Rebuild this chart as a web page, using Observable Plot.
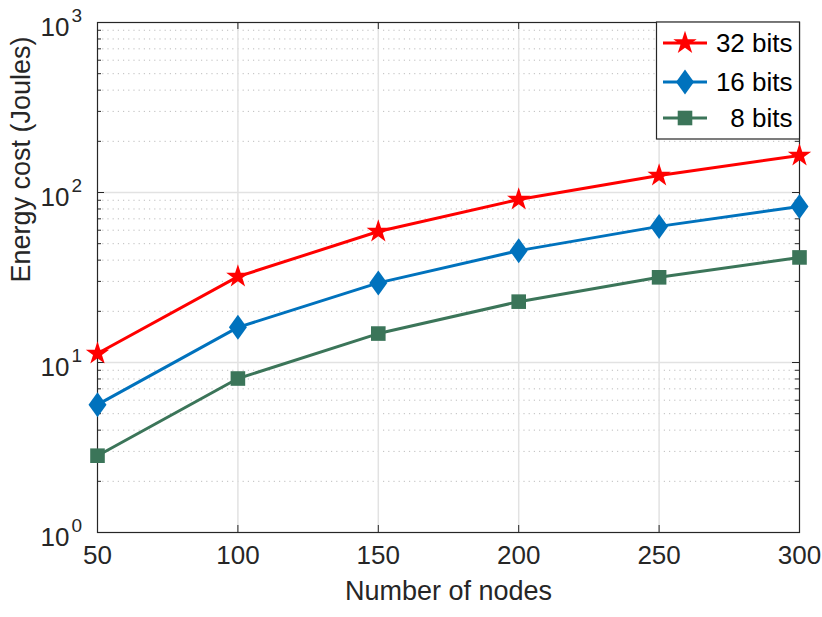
<!DOCTYPE html>
<html><head><meta charset="utf-8">
<script src="https://cdn.jsdelivr.net/npm/d3@7"></script>
<script src="https://cdn.jsdelivr.net/npm/@observablehq/plot@0.6"></script>
<style>body{margin:0;background:#fff;} #chart{width:822px;height:617px;}</style>
</head><body><div id="chart"></div>
<script>
const nodes = [50, 100, 150, 200, 250, 300];
const energy32 = [11.3, 32.0, 59.0, 91.0, 126, 165];
const energy16 = [5.65, 16.1, 29.4, 45.5, 63.2, 82.8];
const energy8 = [2.83, 8.05, 14.8, 22.8, 31.7, 41.5];
const seriesNames = ["32 bits", "16 bits", "8 bits"];
const seriesColors = ["#ff0000", "#0072bd", "#3b7559"];
const xTicks = [50, 100, 150, 200, 250, 300];
const yMajor = [1, 10, 100, 1000];
const yExp = ["0", "1", "2", "3"];
const yMinor = [1, 10, 100].flatMap(d => [2,3,4,5,6,7,8,9].map(k => k * d));

const W = 822, H = 617, mL = 97, mR = 23, mT = 22, mB = 85;
const fw = W - mL - mR, fh = H - mT - mB;
const axisColor = "#262626";
const lineW = 3;

const starSym = {draw(ctx, size) {
  const R = Math.sqrt(size / Math.PI), r = R * 0.381966;
  for (let i = 0; i < 10; i++) {
    const a = -Math.PI / 2 + i * Math.PI / 5, rad = i % 2 ? r : R;
    const x = rad * Math.cos(a), y = rad * Math.sin(a);
    i ? ctx.lineTo(x, y) : ctx.moveTo(x, y);
  }
  ctx.closePath();
}};
const diamondSym = {draw(ctx, size) {
  const R = Math.sqrt(size / Math.PI);
  ctx.moveTo(0, -R); ctx.lineTo(0.72 * R, 0); ctx.lineTo(0, R); ctx.lineTo(-0.72 * R, 0); ctx.closePath();
}};
const squareSym = {draw(ctx, size) {
  const R = Math.sqrt(size / Math.PI);
  ctx.moveTo(-R, -R); ctx.lineTo(R, -R); ctx.lineTo(R, R); ctx.lineTo(-R, R); ctx.closePath();
}};
const symbols = [starSym, diamondSym, squareSym];
const symbolR = [12.3, 12.5, 7.3];

const seriesValues = [energy32, energy16, energy8];
const tables = seriesValues.map((vals, i) => nodes.map((n, j) => ({n, e: vals[j], s: seriesNames[i]})));

const seriesMarks = tables.flatMap((rows, i) => [
  Plot.line(rows, {x: "n", y: "e", stroke: seriesColors[i], strokeWidth: lineW}),
  Plot.dot(rows, {x: "n", y: "e", symbol: symbols[i], r: symbolR[i], fill: seriesColors[i], stroke: "none"})
]);

const plot = Plot.plot({
  width: W, height: H, marginLeft: mL, marginRight: mR, marginTop: mT, marginBottom: mB,
  style: {fontFamily: "'Liberation Sans', Arial, Helvetica, sans-serif", background: "white", color: axisColor},
  x: {domain: [50, 300], axis: null},
  y: {type: "log", domain: [1, 1000], axis: null},
  marks: [
    Plot.ruleY(yMinor, {stroke: "#bdbdbd", strokeDasharray: "1.2,4", strokeWidth: 1}),
    Plot.ruleY(yMajor.slice(1, -1), {stroke: "#e2e2e2", strokeWidth: 1.5}),
    Plot.ruleX(xTicks.slice(1, -1), {stroke: "#e2e2e2", strokeWidth: 1.5}),
    Plot.frame({stroke: axisColor, strokeWidth: 1.2}),
    Plot.tickX(xTicks, {x: d => d, insetTop: fh - 7, stroke: axisColor}),
    Plot.tickX(xTicks, {x: d => d, insetBottom: fh - 7, stroke: axisColor}),
    Plot.tickY(yMajor, {y: d => d, insetRight: fw - 7, stroke: axisColor}),
    Plot.tickY(yMajor, {y: d => d, insetLeft: fw - 7, stroke: axisColor}),
    Plot.tickY(yMinor, {y: d => d, insetRight: fw - 4, stroke: axisColor}),
    Plot.tickY(yMinor, {y: d => d, insetLeft: fw - 4, stroke: axisColor}),
    ...seriesMarks,
    Plot.text(xTicks, {x: d => d, text: d => String(d), frameAnchor: "bottom", dy: 31, fontSize: 26, fill: axisColor}),
    Plot.text(yMajor, {y: d => d, text: () => "10", frameAnchor: "left", textAnchor: "end", dx: -28, dy: 5.5, fontSize: 26, fill: axisColor}),
    Plot.text(yMajor, {y: d => d, text: (d, i) => yExp[i], frameAnchor: "left", textAnchor: "start", dx: -26, dy: -7, fontSize: 19, fill: axisColor}),
    Plot.text(["Number of nodes"], {text: d => d, frameAnchor: "bottom", dy: 67, fontSize: 27, fill: axisColor}),
    Plot.text(["Energy cost (Joules)"], {text: d => d, frameAnchor: "left", rotate: -90, dx: -76, dy: 5, fontSize: 27, fill: axisColor})
  ]
});
document.getElementById("chart").appendChild(plot);

// Legend (inside the top-right corner of the frame)
const svg = d3.select(plot);
const lw = 143, lh = 117;
const lx0 = W - mR - lw + 0.5, ly0 = mT;
const lg = svg.append("g").attr("font-family", "'Liberation Sans', Arial, Helvetica, sans-serif");
lg.append("rect").attr("x", lx0).attr("y", ly0).attr("width", lw).attr("height", lh)
  .attr("fill", "white").attr("stroke", axisColor).attr("stroke-width", 1.2);
const rowY = [21, 60, 96];
seriesNames.forEach((name, i) => {
  const cy = ly0 + rowY[i];
  lg.append("line").attr("x1", lx0 + 6.5).attr("x2", lx0 + 50.5).attr("y1", cy).attr("y2", cy)
    .attr("stroke", seriesColors[i]).attr("stroke-width", lineW);
  const p = d3.path();
  symbols[i].draw(p, Math.PI * symbolR[i] * symbolR[i]);
  lg.append("path").attr("d", p.toString()).attr("transform", `translate(${lx0 + 28.5},${cy})`)
    .attr("fill", seriesColors[i]);
  lg.append("text").attr("x", lx0 + 136).attr("y", cy).attr("dy", "0.35em")
    .attr("text-anchor", "end").attr("font-size", 26).attr("fill", "#000").text(name);
});
</script>
</body></html>
